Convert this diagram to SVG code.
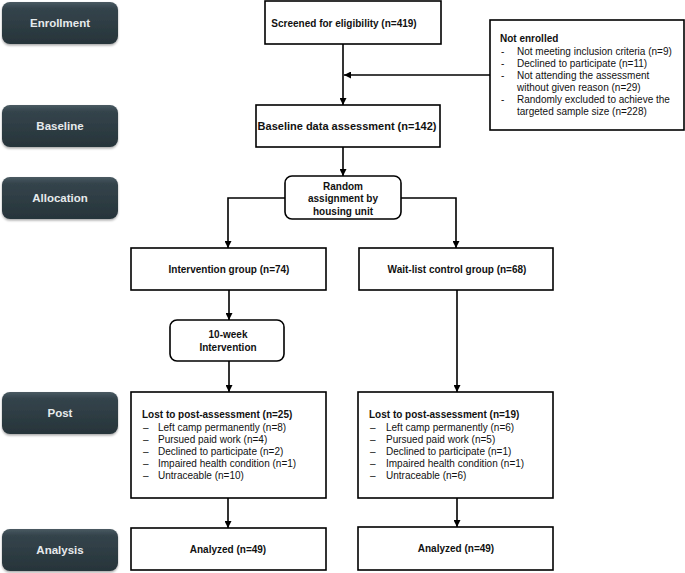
<svg xmlns="http://www.w3.org/2000/svg" width="685" height="573" viewBox="0 0 685 573">
<defs>
<linearGradient id="stg" x1="0" y1="0" x2="0" y2="1">
<stop offset="0" stop-color="#4a5a62"/>
<stop offset="0.15" stop-color="#34444c"/>
<stop offset="1" stop-color="#27343a"/>
</linearGradient>
<filter id="sh" x="-10%" y="-10%" width="120%" height="130%">
<feDropShadow dx="0" dy="1.5" stdDeviation="1.2" flood-color="#000" flood-opacity="0.35"/>
</filter>
<marker id="ah" viewBox="0 0 10 10" refX="10" refY="5" markerWidth="8" markerHeight="7" markerUnits="userSpaceOnUse" orient="auto">
<path d="M0,0 L10,5 L0,10 Z" fill="#000"/>
</marker>
</defs>
<style>
.stage rect{fill:url(#stg);filter:url(#sh)}
.stage text{fill:#e6eaec;font-family:"Liberation Sans",Arial,sans-serif;font-weight:bold;font-size:11.5px;text-anchor:middle}
.box{fill:#fff;stroke:#000;stroke-width:1.6}
.t{font-family:"Liberation Sans",Arial,sans-serif;font-size:10px;fill:#111}
.b{font-weight:bold}
.c{text-anchor:middle}
.conn path{fill:none;stroke:#000;stroke-width:1.6}
</style>
<rect width="685" height="573" fill="#fff"/>
<g id="stage-enrollment" class="stage"><rect x="2" y="2" width="116" height="42" rx="8"/><text x="60" y="27">Enrollment</text></g>
<g id="stage-baseline" class="stage"><rect x="2" y="105" width="116" height="42" rx="8"/><text x="60" y="130">Baseline</text></g>
<g id="stage-allocation" class="stage"><rect x="2" y="177" width="116" height="42" rx="8"/><text x="60" y="202">Allocation</text></g>
<g id="stage-post" class="stage"><rect x="2" y="392" width="116" height="42" rx="8"/><text x="60" y="417">Post</text></g>
<g id="stage-analysis" class="stage"><rect x="2" y="529" width="116" height="42" rx="8"/><text x="60" y="554">Analysis</text></g>

<g id="screened"><rect class="box" x="265" y="1" width="176" height="43"/><text class="t b c" x="344" y="27">Screened for eligibility (n=419)</text></g>
<g id="not-enrolled"><rect class="box" x="490" y="20" width="194" height="110"/>
<text class="t b" x="500" y="42">Not enrolled</text>
<text class="t" x="501" y="55">-</text><text class="t" x="517" y="55">Not meeting inclusion criteria (n=9)</text>
<text class="t" x="501" y="67">-</text><text class="t" x="517" y="67">Declined to participate (n=11)</text>
<text class="t" x="501" y="79">-</text><text class="t" x="517" y="79">Not attending the assessment</text>
<text class="t" x="517" y="91">without given reason (n=29)</text>
<text class="t" x="501" y="103">-</text><text class="t" x="517" y="103">Randomly excluded to achieve the</text>
<text class="t" x="517" y="115">targeted sample size (n=228)</text>
</g>
<g id="baseline"><rect class="box" x="256" y="105" width="184" height="42"/><text class="t b c" x="347" y="130" style="font-size:11px">Baseline data assessment (n=142)</text></g>
<g id="random"><rect class="box" x="285" y="176" width="116" height="43" rx="7"/>
<text class="t b c" x="343" y="190">Random</text><text class="t b c" x="343" y="202">assignment by</text><text class="t b c" x="343" y="215">housing unit</text></g>
<g id="intervention-group"><rect class="box" x="131" y="248" width="195" height="42"/><text class="t b c" x="229" y="273">Intervention group (n=74)</text></g>
<g id="waitlist-group"><rect class="box" x="359" y="248" width="194" height="42"/><text class="t b c" x="457" y="273">Wait-list control group (n=68)</text></g>
<g id="intervention"><rect class="box" x="170" y="320" width="114" height="41" rx="7"/>
<text class="t b c" x="228" y="338">10-week</text><text class="t b c" x="228" y="351">Intervention</text></g>
<g id="lost-left"><rect class="box" x="131" y="392" width="195" height="106"/>
<text class="t b" x="142" y="418">Lost to post-assessment (n=25)</text>
<text class="t" x="143" y="431">–</text><text class="t" x="158" y="431">Left camp permanently (n=8)</text>
<text class="t" x="143" y="443">–</text><text class="t" x="158" y="443">Pursued paid work (n=4)</text>
<text class="t" x="143" y="455">–</text><text class="t" x="158" y="455">Declined to participate (n=2)</text>
<text class="t" x="143" y="467">–</text><text class="t" x="158" y="467">Impaired  health condition (n=1)</text>
<text class="t" x="143" y="479">–</text><text class="t" x="158" y="479">Untraceable (n=10)</text>
</g>
<g id="lost-right"><rect class="box" x="358" y="392" width="195" height="106"/>
<text class="t b" x="369" y="418">Lost to post-assessment (n=19)</text>
<text class="t" x="370" y="431">–</text><text class="t" x="386" y="431">Left camp permanently (n=6)</text>
<text class="t" x="370" y="443">–</text><text class="t" x="386" y="443">Pursued paid work (n=5)</text>
<text class="t" x="370" y="455">–</text><text class="t" x="386" y="455">Declined to participate (n=1)</text>
<text class="t" x="370" y="467">–</text><text class="t" x="386" y="467">Impaired  health condition (n=1)</text>
<text class="t" x="370" y="479">–</text><text class="t" x="386" y="479">Untraceable (n=6)</text>
</g>
<g id="analyzed-left"><rect class="box" x="131" y="528" width="195" height="42"/><text class="t b c" x="228" y="553">Analyzed (n=49)</text></g>
<g id="analyzed-right"><rect class="box" x="358" y="527" width="195" height="43"/><text class="t b c" x="456" y="552">Analyzed (n=49)</text></g>

<g id="connectors" class="conn">
<path d="M343,44 V105" marker-end="url(#ah)"/>
<path d="M490,75 H344" marker-end="url(#ah)"/>
<path d="M343,147 V176" marker-end="url(#ah)"/>
<path d="M285,198 H228 V248" marker-end="url(#ah)"/>
<path d="M401,198 H456 V248" marker-end="url(#ah)"/>
<path d="M229,290 V320" marker-end="url(#ah)"/>
<path d="M229,361 V392" marker-end="url(#ah)"/>
<path d="M457,290 V392" marker-end="url(#ah)"/>
<path d="M228,498 V528" marker-end="url(#ah)"/>
<path d="M457,498 V527" marker-end="url(#ah)"/>
</g>
</svg>
